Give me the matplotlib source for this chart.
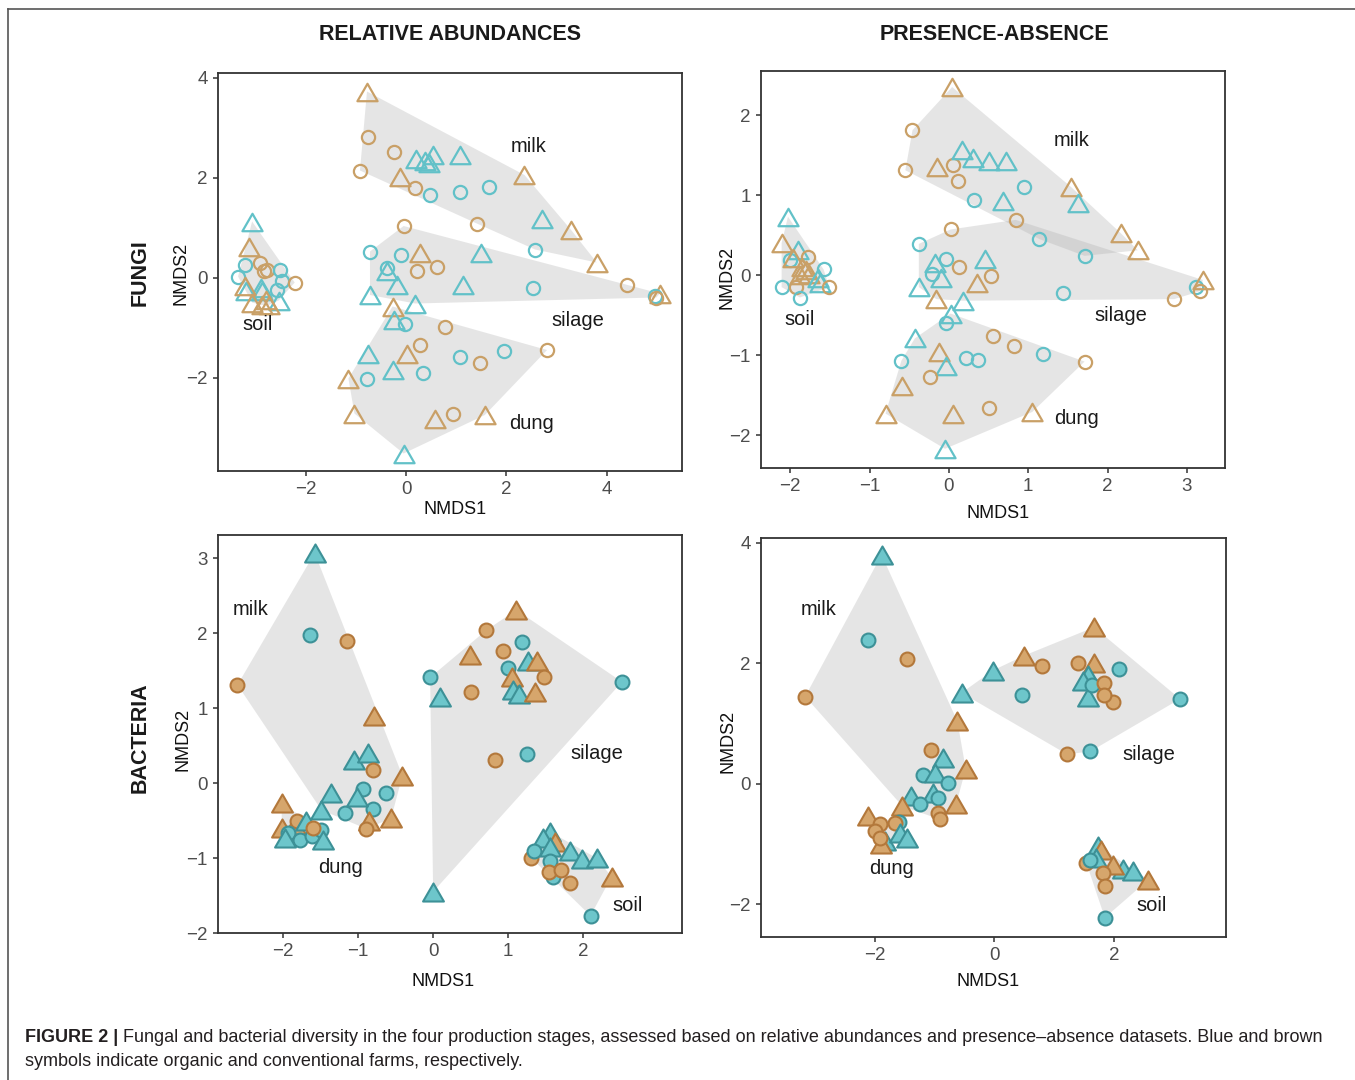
import numpy as np
import matplotlib
matplotlib.use("Agg")
import matplotlib.pyplot as plt
from matplotlib.path import Path
from matplotlib.patches import Polygon
from matplotlib.lines import Line2D

plt.rcParams['font.family'] = ['Liberation Sans', 'DejaVu Sans']

# point codes: O = organic farm (blue), C = conventional farm (brown)
#              t = triangle, c = circle
# ---- fungi, relative abundances
fungi_ra_milk = [(-0.78, 3.73, "Ct"), (-0.75, 2.83, "Cc"), (-0.24, 2.53, "Cc"), (-0.92, 2.15, "Cc"),
                 (-0.12, 2.03, "Ct"), (0.18, 1.81, "Cc"), (0.20, 2.39, "Ot"), (0.38, 2.35, "Ot"),
                 (0.46, 2.30, "Ot"), (0.54, 2.46, "Ot"), (1.08, 2.46, "Ot"), (0.48, 1.66, "Oc"),
                 (1.08, 1.73, "Oc"), (1.65, 1.83, "Oc"), (2.36, 2.06, "Ct"), (1.41, 1.09, "Cc"),
                 (2.70, 1.19, "Ot"), (3.29, 0.96, "Ct"), (2.57, 0.57, "Oc"), (3.80, 0.31, "Ct")]
fungi_ra_silage = [(-0.05, 1.04, "Cc"), (-0.72, 0.53, "Oc"), (-0.10, 0.46, "Oc"), (0.28, 0.51, "Ct"),
                   (1.49, 0.51, "Ot"), (0.21, 0.14, "Cc"), (0.61, 0.23, "Cc"), (-0.38, 0.21, "Oc"),
                   (-0.38, 0.15, "Ot"), (-0.19, -0.14, "Ot"), (1.13, -0.13, "Ot"), (2.52, -0.19, "Oc"),
                   (4.40, -0.14, "Cc"), (5.06, -0.31, "Ct"), (4.97, -0.36, "Oc"), (4.99, -0.39, "Cc"),
                   (-0.72, -0.34, "Ot"), (0.18, -0.51, "Ot")]
fungi_ra_dung = [(-0.27, -0.57, "Ct"), (-0.25, -0.84, "Ot"), (-0.03, -0.92, "Oc"), (0.78, -0.97, "Cc"),
                 (0.28, -1.34, "Cc"), (0.01, -1.52, "Ct"), (-0.76, -1.52, "Ot"), (1.08, -1.57, "Oc"),
                 (1.95, -1.46, "Oc"), (2.81, -1.44, "Cc"), (1.47, -1.69, "Cc"), (-0.27, -1.84, "Ot"),
                 (0.34, -1.89, "Oc"), (-0.78, -2.01, "Oc"), (-1.15, -2.01, "Ct"), (-1.03, -2.71, "Ct"),
                 (0.58, -2.81, "Ct"), (0.93, -2.71, "Cc"), (1.57, -2.74, "Ct"), (-0.05, -3.51, "Ot")]
fungi_ra_soil = [(-3.07, 1.13, "Ot"), (-3.14, 0.63, "Ct"), (-3.21, 0.26, "Oc"), (-2.91, 0.31, "Cc"),
                 (-2.84, 0.14, "Cc"), (-2.77, 0.17, "Cc"), (-2.51, 0.17, "Oc"), (-2.48, -0.05, "Oc"),
                 (-3.35, 0.03, "Oc"), (-2.22, -0.09, "Cc"), (-2.58, -0.24, "Oc"), (-3.20, -0.25, "Ot"),
                 (-2.90, -0.19, "Ot"), (-2.87, -0.25, "Ot"), (-2.54, -0.45, "Ot"), (-3.22, -0.15, "Ct"),
                 (-3.07, -0.49, "Ct"), (-2.80, -0.43, "Ct"), (-2.74, -0.54, "Ct"), (-2.88, -0.54, "Ct")]

# ---- fungi, presence-absence
fungi_pa_milk = [(0.04, 2.35, "Ct"), (-0.46, 1.81, "Cc"), (-0.55, 1.31, "Cc"), (-0.15, 1.35, "Ct"),
                 (0.05, 1.38, "Cc"), (0.11, 1.17, "Cc"), (0.16, 1.56, "Ot"), (0.30, 1.46, "Ot"),
                 (0.51, 1.42, "Ot"), (0.72, 1.42, "Ot"), (0.32, 0.94, "Oc"), (0.68, 0.92, "Ot"),
                 (0.94, 1.10, "Oc"), (1.54, 1.10, "Ct"), (1.63, 0.90, "Ot"), (1.14, 0.45, "Oc"),
                 (2.17, 0.52, "Ct"), (1.71, 0.24, "Oc"), (2.38, 0.31, "Ct")]
fungi_pa_silage = [(0.02, 0.57, "Cc"), (0.84, 0.69, "Cc"), (-0.38, 0.39, "Oc"), (-0.04, 0.20, "Oc"),
                   (-0.18, 0.15, "Ot"), (-0.22, 0.02, "Oc"), (-0.10, -0.04, "Ot"), (0.13, 0.10, "Cc"),
                   (0.45, 0.20, "Ot"), (0.53, -0.01, "Cc"), (0.35, -0.10, "Ct"), (-0.38, -0.15, "Ot"),
                   (-0.16, -0.30, "Ct"), (1.44, -0.22, "Oc"), (2.84, -0.30, "Cc"), (3.12, -0.15, "Oc"),
                   (3.20, -0.06, "Ct"), (3.17, -0.20, "Cc"), (0.18, -0.32, "Ot")]
fungi_pa_dung = [(-0.04, -0.60, "Oc"), (0.02, -0.48, "Ot"), (0.55, -0.76, "Cc"), (0.82, -0.88, "Cc"),
                 (1.19, -0.98, "Oc"), (1.71, -1.08, "Cc"), (-0.43, -0.79, "Ot"), (-0.13, -0.96, "Ct"),
                 (-0.60, -1.07, "Oc"), (0.21, -1.03, "Oc"), (0.36, -1.06, "Oc"), (-0.04, -1.13, "Ot"),
                 (-0.24, -1.27, "Cc"), (-0.59, -1.38, "Ct"), (-0.80, -1.73, "Ct"), (0.05, -1.73, "Ct"),
                 (0.50, -1.66, "Cc"), (1.05, -1.71, "Ct"), (-0.05, -2.17, "Ot")]
fungi_pa_soil = [(-2.03, 0.73, "Ot"), (-2.11, 0.40, "Ct"), (-1.90, 0.31, "Ot"), (-2.00, 0.19, "Oc"),
                 (-1.97, 0.21, "Ct"), (-1.78, 0.22, "Cc"), (-1.85, 0.10, "Ct"), (-1.80, 0.06, "Ct"),
                 (-1.76, 0.02, "Ct"), (-1.88, 0.00, "Ct"), (-1.58, 0.07, "Oc"), (-2.11, -0.15, "Oc"),
                 (-1.93, -0.15, "Cc"), (-1.88, -0.28, "Oc"), (-1.65, -0.04, "Ot"), (-1.63, -0.10, "Ot"),
                 (-1.51, -0.15, "Cc")]

# ---- bacteria, relative abundances
bact_ra_milk = [(-1.58, 3.07, "Ot"), (-1.64, 1.98, "Oc"), (-1.15, 1.90, "Cc"), (-2.61, 1.31, "Cc"),
                (-0.79, 0.89, "Ct"), (-0.41, 0.10, "Ct"), (-1.05, 0.31, "Ot"), (-0.87, 0.40, "Ot"),
                (-0.80, 0.18, "Cc"), (-0.93, -0.08, "Oc"), (-0.63, -0.13, "Oc"), (-0.80, -0.34, "Oc"),
                (-1.17, -0.40, "Oc"), (-1.36, -0.13, "Ot"), (-1.02, -0.18, "Ot"), (-1.49, -0.36, "Ot"),
                (-0.56, -0.47, "Ct"), (-0.86, -0.51, "Ct"), (-0.89, -0.61, "Cc")]
bact_ra_silage = [(1.11, 2.31, "Ct"), (0.71, 2.04, "Cc"), (1.19, 1.88, "Oc"), (0.93, 1.76, "Cc"),
                  (0.49, 1.71, "Ct"), (1.27, 1.63, "Ot"), (1.39, 1.63, "Ct"), (1.00, 1.54, "Oc"),
                  (1.48, 1.41, "Cc"), (1.05, 1.42, "Ct"), (1.06, 1.24, "Ot"), (1.14, 1.19, "Ot"),
                  (1.36, 1.21, "Ct"), (-0.04, 1.41, "Oc"), (0.09, 1.15, "Ot"), (0.50, 1.21, "Cc"),
                  (2.52, 1.35, "Oc"), (0.82, 0.31, "Cc"), (1.25, 0.39, "Oc"), (0.00, -1.45, "Ot")]
bact_ra_dung = [(-2.02, -0.27, "Ct"), (-2.02, -0.60, "Ct"), (-1.84, -0.56, "Ct"), (-1.82, -0.51, "Cc"),
                (-1.69, -0.51, "Ot"), (-1.93, -0.67, "Oc"), (-1.78, -0.76, "Oc"), (-1.62, -0.71, "Oc"),
                (-1.49, -0.62, "Oc"), (-1.98, -0.73, "Ot"), (-1.47, -0.76, "Ot"), (-1.60, -0.60, "Cc")]
bact_ra_soil = [(1.56, -0.65, "Ot"), (1.47, -0.73, "Ot"), (1.62, -0.78, "Ct"), (1.56, -0.85, "Ot"),
                (1.82, -0.91, "Ot"), (1.98, -1.01, "Ot"), (2.18, -1.00, "Ot"), (2.38, -1.25, "Ct"),
                (1.31, -1.00, "Cc"), (1.35, -0.90, "Oc"), (1.56, -1.04, "Oc"), (1.60, -1.25, "Oc"),
                (1.54, -1.18, "Cc"), (1.71, -1.16, "Cc"), (1.82, -1.33, "Cc"), (2.10, -1.77, "Oc")]

# ---- bacteria, presence-absence
bact_pa_milk = [(-1.89, 3.80, "Ot"), (-2.11, 2.38, "Oc"), (-1.47, 2.08, "Cc"), (-3.17, 1.45, "Cc"),
                (-0.62, 1.04, "Ct"), (-0.48, 0.25, "Ct"), (-1.06, 0.56, "Cc"), (-0.86, 0.43, "Ot"),
                (-1.19, 0.15, "Oc"), (-1.00, 0.18, "Ot"), (-0.78, 0.02, "Oc"), (-1.03, -0.15, "Ot"),
                (-0.95, -0.23, "Oc"), (-1.39, -0.20, "Ot"), (-1.25, -0.34, "Oc"), (-0.64, -0.34, "Ct"),
                (-0.94, -0.48, "Cc"), (-0.91, -0.59, "Cc"), (-1.54, -0.37, "Ct")]
bact_pa_silage = [(-0.55, 1.51, "Ot"), (-0.03, 1.88, "Ot"), (0.50, 2.13, "Ct"), (0.79, 1.95, "Cc"),
                  (0.47, 1.48, "Oc"), (1.67, 2.60, "Ct"), (1.40, 2.00, "Cc"), (1.67, 2.00, "Ct"),
                  (2.09, 1.91, "Oc"), (1.57, 1.81, "Ot"), (1.49, 1.70, "Ot"), (1.56, 1.44, "Ot"),
                  (1.64, 1.64, "Oc"), (1.84, 1.67, "Cc"), (1.99, 1.36, "Cc"), (1.84, 1.48, "Cc"),
                  (3.11, 1.41, "Oc"), (1.22, 0.49, "Cc"), (1.61, 0.54, "Oc")]
bact_pa_dung = [(-2.11, -0.54, "Ct"), (-1.60, -0.63, "Oc"), (-1.92, -0.67, "Cc"), (-1.67, -0.65, "Cc"),
                (-2.00, -0.78, "Cc"), (-1.83, -0.95, "Ot"), (-1.58, -0.81, "Ot"), (-1.47, -0.90, "Ot"),
                (-1.90, -0.99, "Ct"), (-1.92, -0.90, "Cc")]
bact_pa_soil = [(1.74, -1.03, "Ot"), (1.79, -1.09, "Ct"), (1.71, -1.23, "Ot"), (2.16, -1.42, "Ot"),
                (2.32, -1.45, "Ot"), (1.99, -1.34, "Ct"), (2.58, -1.59, "Ct"), (1.54, -1.31, "Cc"),
                (1.60, -1.27, "Oc"), (1.82, -1.48, "Cc"), (1.85, -1.70, "Cc"), (1.85, -2.22, "Oc")]

stages = ["milk", "silage", "dung", "soil"]

# axis ticks per panel
fungi_ra_xticks, fungi_ra_yticks = [-2, 0, 2, 4], [-2, 0, 2, 4]
fungi_pa_xticks, fungi_pa_yticks = [-2, -1, 0, 1, 2, 3], [-2, -1, 0, 1, 2]
bact_ra_xticks, bact_ra_yticks = [-2, -1, 0, 1, 2], [-2, -1, 0, 1, 2, 3]
bact_pa_xticks, bact_pa_yticks = [-2, 0, 2], [-2, 0, 2, 4]

# panel layout (pixels of the 1355x1080 figure: left, top, right, bottom) and limits
W, H = 1355, 1080
panels = [
    dict(groups=[fungi_ra_milk, fungi_ra_silage, fungi_ra_dung, fungi_ra_soil], filled=False,
         box=(218, 73, 682, 471), xlim=(-3.75, 5.5), ylim=(-3.86, 4.1),
         xt=fungi_ra_xticks, yt=fungi_ra_yticks,
         lab={"milk": (2.45, 2.64), "silage": (3.43, -0.85), "dung": (2.50, -2.91), "soil": (-2.96, -0.93)},
         xl=(455, 509), yl=(181, 273)),
    dict(groups=[fungi_pa_milk, fungi_pa_silage, fungi_pa_dung, fungi_pa_soil], filled=False,
         box=(761, 71, 1225, 468), xlim=(-2.37, 3.48), ylim=(-2.41, 2.55),
         xt=fungi_pa_xticks, yt=fungi_pa_yticks,
         lab={"milk": (1.55, 1.68), "silage": (2.17, -0.51), "dung": (1.61, -1.79), "soil": (-1.88, -0.55)},
         xl=(998, 513), yl=(727, 277)),
    dict(groups=[bact_ra_milk, bact_ra_silage, bact_ra_dung, bact_ra_soil], filled=True,
         box=(218, 535, 682, 933), xlim=(-2.87, 3.32), ylim=(-2.0, 3.31),
         xt=bact_ra_xticks, yt=bact_ra_yticks,
         lab={"milk": (-2.43, 2.31), "silage": (2.19, 0.39), "dung": (-1.23, -1.13), "soil": (2.59, -1.63)},
         xl=(443, 982), yl=(183, 739)),
    dict(groups=[bact_pa_milk, bact_pa_silage, bact_pa_dung, bact_pa_soil], filled=True,
         box=(761, 538, 1226, 937), xlim=(-3.91, 3.88), ylim=(-2.54, 4.08),
         xt=bact_pa_xticks, yt=bact_pa_yticks,
         lab={"milk": (-2.95, 2.89), "silage": (2.58, 0.49), "dung": (-1.72, -1.41), "soil": (2.63, -2.02)},
         xl=(988, 982), yl=(728, 741)),
]

blue_open, brown_open = "#62c1c8", "#c9a067"
blue_face, blue_edge = "#6dc6cb", "#3d9197"
brown_face, brown_edge = "#d6a66c", "#b3783b"

# ggplot-like triangle (wider than tall)
tri = Path([(-1, -0.866), (1, -0.866), (0, 0.866), (-1, -0.866)],
           [Path.MOVETO, Path.LINETO, Path.LINETO, Path.CLOSEPOLY])


def convex_hull(pts):
    pts = sorted(set(pts))
    def cross(o, a, b):
        return (a[0] - o[0]) * (b[1] - o[1]) - (a[1] - o[1]) * (b[0] - o[0])
    lower, upper = [], []
    for p in pts:
        while len(lower) >= 2 and cross(lower[-2], lower[-1], p) <= 0:
            lower.pop()
        lower.append(p)
    for p in reversed(pts):
        while len(upper) >= 2 and cross(upper[-2], upper[-1], p) <= 0:
            upper.pop()
        upper.append(p)
    return lower[:-1] + upper[:-1]


def minus(v):
    return ("\u2212%d" % -v) if v < 0 else str(v)


fig = plt.figure(figsize=(W / 100, H / 100), dpi=100)

for pn in panels:
    l, t, r, b = pn['box']
    ax = fig.add_axes([l / W, 1 - b / H, (r - l) / W, (b - t) / H])
    ax.set_xlim(*pn['xlim'])
    ax.set_ylim(*pn['ylim'])
    for g in pn['groups']:
        hull = convex_hull([(p[0], p[1]) for p in g])
        ax.add_patch(Polygon(hull, closed=True, facecolor="#b0b0b0", alpha=0.32,
                             edgecolor='none', zorder=1))
    for g in pn['groups']:
        for x, y, code in g:
            mk = tri if code[1] == "t" else "o"
            if pn['filled']:
                ms = 15 if code[1] == "t" else 10
                fc, ec = (blue_face, blue_edge) if code[0] == "O" else (brown_face, brown_edge)
                ax.plot([x], [y], marker=mk, ms=ms, mfc=fc, mec=ec, mew=1.5, ls='none', zorder=3)
            else:
                ms = 14.5 if code[1] == "t" else 9.5
                ec = blue_open if code[0] == "O" else brown_open
                ax.plot([x], [y], marker=mk, ms=ms, mfc='none', mec=ec, mew=1.6, ls='none', zorder=3)
    for name in stages:
        lx, ly = pn['lab'][name]
        ax.text(lx, ly, name, ha='center', va='center', fontsize=14.5, color='#1a1a1a', zorder=4)

    ax.set_xticks(pn['xt'])
    ax.set_yticks(pn['yt'])
    ax.set_xticklabels([minus(v) for v in pn['xt']])
    ax.set_yticklabels([minus(v) for v in pn['yt']])
    ax.tick_params(direction='out', length=3.5, width=1.1, color='#333333',
                   labelsize=13.5, labelcolor='#4d4d4d', pad=4)
    for s in ax.spines.values():
        s.set_color('#333333')
        s.set_linewidth(1.3)

    fig.text(pn['xl'][0] / W, 1 - pn['xl'][1] / H, "NMDS1", ha='center', va='center',
             fontsize=13, color='#111111')
    fig.text(pn['yl'][0] / W, 1 - pn['yl'][1] / H, "NMDS2", ha='center', va='center',
             fontsize=13, color='#111111', rotation=90)

# column and row headings
fig.text(450 / W, 1 - 35 / H, "RELATIVE ABUNDANCES", ha='center', va='center',
         fontsize=15.5, fontweight='bold', color='#1a1a1a')
fig.text(994 / W, 1 - 35 / H, "PRESENCE-ABSENCE", ha='center', va='center',
         fontsize=15.5, fontweight='bold', color='#1a1a1a')
fig.text(140 / W, 1 - 273 / H, "FUNGI", ha='center', va='center', rotation=90,
         fontsize=15.5, fontweight='bold', color='#1a1a1a')
fig.text(140 / W, 1 - 738 / H, "BACTERIA", ha='center', va='center', rotation=90,
         fontsize=15.5, fontweight='bold', color='#1a1a1a')

# outer frame (top and left edges)
fig.add_artist(Line2D([8 / W, 1], [1 - 9 / H, 1 - 9 / H], transform=fig.transFigure,
                      color='#555555', lw=1.2))
fig.add_artist(Line2D([8 / W, 8 / W], [1 - 9 / H, 0], transform=fig.transFigure,
                      color='#555555', lw=1.2))

# caption
cap_bold = "FIGURE 2 |"
cap_line1 = ("Fungal and bacterial diversity in the four production stages, assessed based on "
             "relative abundances and presence\u2013absence datasets. Blue and brown")
cap_line2 = "symbols indicate organic and conventional farms, respectively."
t1 = fig.text(25 / W, 1 - 1038 / H, cap_bold, ha='left', va='center', fontsize=13,
              fontweight='bold', color='#231f20')
renderer = fig.canvas.get_renderer()
bb = t1.get_window_extent(renderer)
fig.text((bb.x1 + 5) / W, 1 - 1038 / H, cap_line1, ha='left', va='center', fontsize=13,
         color='#231f20')
fig.text(25 / W, 1 - 1062 / H, cap_line2, ha='left', va='center', fontsize=13, color='#231f20')

fig.savefig("out.png", dpi=100)
